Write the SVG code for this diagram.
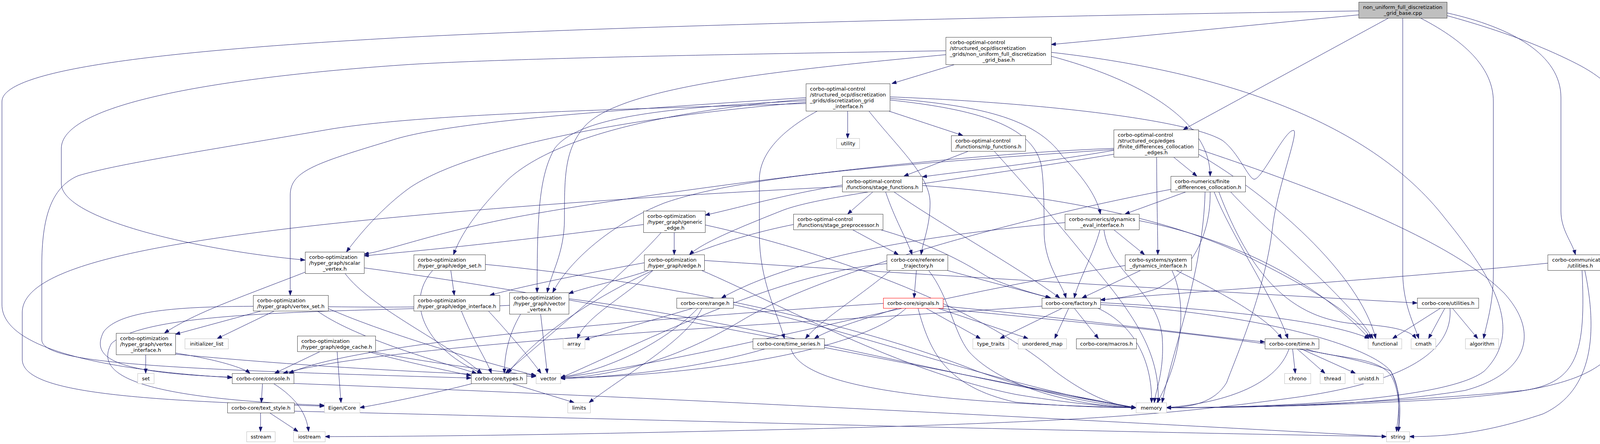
<svg xmlns="http://www.w3.org/2000/svg" width="4169" height="1137" viewBox="0 0 4169 1137">
<defs>
<style>
.e{fill:none;stroke:#191970;stroke-width:1;marker-end:url(#arr)}
.b{fill:#ffffff;stroke:#404040;stroke-width:1}
.g{fill:#ffffff;stroke:#bfbfbf;stroke-width:1}
.r{fill:#ffffff;stroke:#ff0000;stroke-width:1}
.root{fill:#bfbfbf;stroke:#404040;stroke-width:1}
text{font-family:'DejaVu Sans','Liberation Sans',sans-serif;font-size:13.1px;fill:#000000}
.m{text-anchor:middle}
.l{text-anchor:start}
</style>
<marker id="arr" viewBox="0 0 12 9" refX="12" refY="4.5" markerWidth="12" markerHeight="9" orient="auto" markerUnits="userSpaceOnUse"><path d="M0,0 L12,4.5 L0,9 z" fill="#191970" stroke="#191970" stroke-width="1"/></marker>
</defs>
<rect x="0" y="0" width="4169" height="1137" fill="#ffffff"/>
<g id="edges">
<path class="e" d="M3478,38 C3250,60 2950,90 2691,114"/>
<path class="e" d="M3555,46 L3029,332"/>
<path class="e" d="M3478,28 C2800,38 1700,62 1050,95 C500,125 5,170 5,260 L5,780 C5,900 300,950 594,967"/>
<path class="e" d="M3591,46 L3591,700 C3592,780 3620,830 3632,867"/>
<path class="e" d="M3636,46 C3760,110 3823,180 3823,260 L3823,700 C3823,780 3805,830 3798,867"/>
<path class="e" d="M3704,33 C3870,70 3996,140 3996,250 L3996,540 C3996,590 4025,620 4033,652"/>
<path class="e" d="M3704,40 C3850,80 3950,120 4030,160 C4130,210 4162,260 4162,340 L4162,800 C4162,960 4000,1000 3700,1022 C3400,1040 3150,1044 2986,1044"/>
<path class="e" d="M2445,165 L2283,214"/>
<path class="e" d="M2421,130 C1800,140 1300,150 1050,165 C600,195 157,260 157,380 L157,470 C157,560 500,640 781,666"/>
<path class="e" d="M2691,144 C2900,200 3098,300 3098,451"/>
<path class="e" d="M2691,134 C3100,180 3500,300 3700,560 C3830,720 3900,850 3800,950 C3700,1030 3200,1044 2986,1044"/>
<path class="e" d="M2421,140 C2000,180 1600,220 1500,320 C1445,380 1445,450 1445,560 C1445,650 1410,700 1401,749"/>
<path class="e" d="M2170,284 L2170,354"/>
<path class="e" d="M2274,284 L2465,347"/>
<path class="e" d="M2224,284 C2300,380 2381,450 2381,520 C2381,580 2362,620 2358,652"/>
<path class="e" d="M2093,284 C1990,340 1944,400 1944,460 L1944,600 C1944,720 1990,800 2008,867"/>
<path class="e" d="M2063,250 C1600,280 1150,310 1000,360 C800,420 743,440 743,500 L743,756"/>
<path class="e" d="M2063,254 C1700,285 1420,350 1300,460 C1220,540 1180,600 1161,652"/>
<path class="e" d="M2063,258 C1700,275 1480,300 1420,380 C1380,450 1375,550 1375,749"/>
<path class="e" d="M2063,262 C1600,300 1200,380 1050,480 C980,530 920,600 887,645"/>
<path class="e" d="M2063,265 C1600,280 1100,290 850,330 C500,390 300,420 200,450 C130,480 107,560 107,680 L107,870 C107,930 400,945 1206,968"/>
<path class="e" d="M2278,252 C2500,270 2650,300 2720,400 C2780,460 2810,510 2817,548"/>
<path class="e" d="M2278,256 C2500,280 2640,320 2665,420 C2672,460 2673,520 2673,600 C2676,680 2720,730 2729,763"/>
<path class="e" d="M2278,248 C2700,265 3050,310 3130,360 C3170,390 3195,455 3210,459 C3230,462 3290,330 3312,334 C3325,340 3270,480 3258,580 C3240,740 3170,900 3140,980 C3110,1030 3050,1044 2986,1044"/>
<path class="e" d="M2480,387 L2314,451"/>
<path class="e" d="M2545,387 C2620,470 2700,560 2780,660 C2900,800 2970,900 2965,1031"/>
<path class="e" d="M2851,385 C2650,420 2450,440 2361,453"/>
<path class="e" d="M3004,402 L3064,451"/>
<path class="e" d="M2851,395 C2400,470 2100,500 2000,540 C1900,580 1800,620 1765,652"/>
<path class="e" d="M2851,380 C2300,400 1500,520 1300,560 C1100,600 1000,640 932,651"/>
<path class="e" d="M2851,383 C2300,420 1900,450 1700,520 C1550,580 1450,680 1415,749"/>
<path class="e" d="M2961,402 C2961,500 2964,600 2964,652"/>
<path class="e" d="M3068,382 C3300,460 3700,600 3850,750 C3950,860 3900,960 3750,1000 C3500,1040 3200,1044 2986,1044"/>
<path class="e" d="M3068,395 C3250,500 3480,700 3522,867"/>
<path class="e" d="M2156,474 C2000,500 1900,530 1805,551"/>
<path class="e" d="M2235,491 L2170,548"/>
<path class="e" d="M2267,491 C2290,560 2320,610 2335,652"/>
<path class="e" d="M2288,491 C2400,570 2600,680 2713,763"/>
<path class="e" d="M2156,478 C1700,500 1100,540 700,590 C300,640 57,700 57,800 L57,920 C57,1000 300,1025 830,1040"/>
<path class="e" d="M2361,475 C2700,500 3000,560 3200,660 C3400,760 3480,820 3510,867"/>
<path class="e" d="M3037,491 L2880,548"/>
<path class="e" d="M3098,491 C3100,600 3050,700 2960,740 C2900,760 2850,765 2817,768"/>
<path class="e" d="M3108,491 C3150,600 3260,760 3297,867"/>
<path class="e" d="M3150,491 C3250,600 3450,760 3515,867"/>
<path class="e" d="M3085,491 C3080,700 3000,900 2975,1031"/>
<path class="e" d="M2997,485 C2600,560 2100,700 1900,820 C1750,910 1600,960 1435,969"/>
<path class="e" d="M3120,491 C3200,700 3300,820 3480,830 C3560,835 3610,845 3625,867"/>
<path class="e" d="M2182,588 L2300,652"/>
<path class="e" d="M2253,588 C2400,630 2480,680 2530,710 C2600,740 2660,755 2690,763"/>
<path class="e" d="M2031,575 C1700,640 1400,820 1300,956"/>
<path class="e" d="M2726,570 C2400,600 2050,650 1847,763"/>
<path class="e" d="M2816,588 C2800,650 2760,720 2750,763"/>
<path class="e" d="M2826,588 C2840,700 2960,740 2975,860 C2982,950 2958,1000 2955,1031"/>
<path class="e" d="M2851,588 L2930,652"/>
<path class="e" d="M2916,565 C3200,620 3400,750 3505,867"/>
<path class="e" d="M1726,595 L1726,652"/>
<path class="e" d="M1693,595 C1600,700 1450,820 1294,956"/>
<path class="e" d="M1647,575 C1300,620 1100,640 932,655"/>
<path class="e" d="M1805,576 C2100,640 2500,780 2700,950 C2780,1010 2850,1040 2908,1044"/>
<path class="e" d="M1649,673 C1500,700 1350,730 1254,756"/>
<path class="e" d="M1662,692 C1600,715 1500,735 1456,752"/>
<path class="e" d="M1672,692 C1600,760 1500,810 1478,867"/>
<path class="e" d="M1803,667 C2300,700 3000,740 3628,776"/>
<path class="e" d="M1795,692 C2000,780 2300,950 2600,1010 C2750,1035 2850,1042 2908,1044"/>
<path class="e" d="M1154,692 L1163,756"/>
<path class="e" d="M1108,692 C1030,780 1100,900 1234,956"/>
<path class="e" d="M1241,677 C1700,720 2200,830 2500,950 C2700,1020 2850,1040 2908,1044"/>
<path class="e" d="M1181,796 C1210,870 1245,920 1258,956"/>
<path class="e" d="M1250,796 C1300,850 1360,920 1385,956"/>
<path class="e" d="M1059,786 C700,790 330,760 265,850 C230,920 300,955 594,966"/>
<path class="e" d="M1333,804 C1300,860 1292,910 1291,956"/>
<path class="e" d="M1384,804 L1401,956"/>
<path class="e" d="M1456,765 C1900,820 2500,980 2908,1044"/>
<path class="e" d="M1304,782 C900,800 380,790 285,880 C240,960 350,1020 830,1038"/>
<path class="e" d="M781,697 C620,760 500,800 421,853"/>
<path class="e" d="M883,700 C950,790 1150,880 1233,956"/>
<path class="e" d="M932,686 C1500,760 2400,950 2908,1044"/>
<path class="e" d="M670,796 L449,856"/>
<path class="e" d="M703,796 L556,867"/>
<path class="e" d="M812,796 C900,860 1100,920 1220,956"/>
<path class="e" d="M840,790 C1000,860 1250,930 1372,962"/>
<path class="e" d="M373,908 L373,956"/>
<path class="e" d="M449,904 C550,920 620,940 640,956"/>
<path class="e" d="M449,907 C800,940 1100,955 1372,964"/>
<path class="e" d="M820,900 L703,956"/>
<path class="e" d="M863,900 L873,1031"/>
<path class="e" d="M940,900 C1050,930 1150,950 1206,962"/>
<path class="e" d="M950,900 C1100,930 1300,955 1372,961"/>
<path class="e" d="M672,982 L669,1031"/>
<path class="e" d="M700,982 C760,1020 785,1060 790,1105"/>
<path class="e" d="M752,982 C1500,1010 2500,1060 3549,1118"/>
<path class="e" d="M667,1057 L667,1105"/>
<path class="e" d="M690,1057 L763,1105"/>
<path class="e" d="M753,1053 C1500,1070 2500,1100 3549,1118"/>
<path class="e" d="M1210,982 C1100,1010 1000,1030 921,1044"/>
<path class="e" d="M1310,982 L1470,1031"/>
<path class="e" d="M2346,692 L2340,763"/>
<path class="e" d="M2423,692 L2688,763"/>
<path class="e" d="M2280,692 C2200,760 2100,820 2062,867"/>
<path class="e" d="M2377,692 C2430,760 2441,850 2480,900 C2560,990 2750,1040 2908,1044"/>
<path class="e" d="M2270,675 C2000,700 1700,850 1435,968"/>
<path class="e" d="M2370,789 L2510,867"/>
<path class="e" d="M2400,789 L2632,867"/>
<path class="e" d="M2350,789 C2380,900 2420,990 2600,1030 C2750,1042 2850,1044 2908,1044"/>
<path class="e" d="M2413,784 C2700,810 3000,850 3238,876"/>
<path class="e" d="M2300,789 C2200,820 2120,845 2085,867"/>
<path class="e" d="M2320,789 C2200,900 1800,960 1435,969"/>
<path class="e" d="M2261,777 C1600,820 900,880 740,956"/>
<path class="e" d="M2400,789 C2800,830 3400,880 3560,950 C3590,1000 3580,1060 3575,1105"/>
<path class="e" d="M2720,789 L2560,867"/>
<path class="e" d="M2736,789 L2700,867"/>
<path class="e" d="M2750,789 L2812,867"/>
<path class="e" d="M2810,789 C2900,830 2950,920 2948,1031"/>
<path class="e" d="M2667,784 C2000,830 1000,880 725,956"/>
<path class="e" d="M2817,775 C3100,790 3400,820 3505,867"/>
<path class="e" d="M2817,780 C3200,800 3500,880 3560,950 C3590,1010 3585,1060 3580,1105"/>
<path class="e" d="M1960,893 C1800,940 1600,965 1435,969"/>
<path class="e" d="M2025,893 C2050,980 2300,1030 2908,1044"/>
<path class="e" d="M1775,789 L1497,870"/>
<path class="e" d="M1797,789 C1760,870 1600,960 1508,1031"/>
<path class="e" d="M1787,789 C1700,880 1550,950 1435,966"/>
<path class="e" d="M1877,780 C2200,850 2600,1000 2908,1044"/>
<path class="e" d="M2880,680 C2400,750 1900,900 1435,968"/>
<path class="e" d="M2921,692 L2770,763"/>
<path class="e" d="M3000,692 C3050,800 3010,950 2962,1031"/>
<path class="e" d="M3010,692 C3150,760 3250,820 3281,867"/>
<path class="e" d="M3962,674 C3500,720 3000,750 2817,768"/>
<path class="e" d="M4050,692 C4060,900 4040,980 3900,1000 C3600,1030 3200,1044 2986,1044"/>
<path class="e" d="M4057,692 C4090,850 4080,1000 3950,1060 C3800,1110 3700,1118 3608,1118"/>
<path class="e" d="M3688,789 L3565,867"/>
<path class="e" d="M3699,789 L3657,867"/>
<path class="e" d="M3718,789 L3783,867"/>
<path class="e" d="M3712,789 C3720,900 3600,980 3300,1020 C3000,1060 2800,1080 2000,1100 C1500,1112 1100,1118 832,1118"/>
<path class="e" d="M3309,893 L3316,956"/>
<path class="e" d="M3320,893 L3392,956"/>
<path class="e" d="M3330,893 L3470,956"/>
<path class="e" d="M3341,893 C3420,920 3520,910 3560,960 C3585,1000 3582,1060 3580,1105"/>
<path class="e" d="M3300,893 C3270,980 3150,1030 2986,1044"/>
</g>
<g id="nodes" transform="translate(0.5 0.5)">
<g id="n_root"><rect class="root" x="3478" y="5" width="226" height="41"/><text class="l" x="3489" y="22.3">non_uniform_full_discretization</text><text class="m" x="3591" y="37.3">_grid_base.cpp</text></g>
<g id="n_base"><rect class="b" x="2421" y="95" width="270" height="70"/><text class="l" x="2431" y="112.3">corbo-optimal-control</text><text class="l" x="2431" y="127.3">/structured_ocp/discretization</text><text class="l" x="2431" y="142.3">_grids/non_uniform_full_discretization</text><text class="m" x="2556" y="157.3">_grid_base.h</text></g>
<g id="n_iface"><rect class="b" x="2063" y="214" width="215" height="70"/><text class="l" x="2073" y="231.3">corbo-optimal-control</text><text class="l" x="2073" y="246.3">/structured_ocp/discretization</text><text class="l" x="2073" y="261.3">_grids/discretization_grid</text><text class="m" x="2170.5" y="276.3">_interface.h</text></g>
<g id="n_utility"><rect class="g" x="2141" y="354" width="59" height="26"/><text class="m" x="2170.5" y="371.8">utility</text></g>
<g id="n_nlp"><rect class="b" x="2435" y="347" width="190" height="40"/><text class="l" x="2445" y="364.3">corbo-optimal-control</text><text class="m" x="2530" y="379.3">/functions/nlp_functions.h</text></g>
<g id="n_fdedges"><rect class="b" x="2851" y="332" width="217" height="70"/><text class="l" x="2861" y="349.3">corbo-optimal-control</text><text class="l" x="2861" y="364.3">/structured_ocp/edges</text><text class="l" x="2861" y="379.3">/finite_differences_collocation</text><text class="m" x="2959.5" y="394.3">_edges.h</text></g>
<g id="n_stagefun"><rect class="b" x="2156" y="451" width="205" height="40"/><text class="l" x="2166" y="468.3">corbo-optimal-control</text><text class="m" x="2258.5" y="483.3">/functions/stage_functions.h</text></g>
<g id="n_fdcoll"><rect class="b" x="2997" y="451" width="191" height="40"/><text class="l" x="3007" y="468.3">corbo-numerics/finite</text><text class="m" x="3092.5" y="483.3">_differences_collocation.h</text></g>
<g id="n_stageprep"><rect class="b" x="2031" y="548" width="229" height="40"/><text class="l" x="2041" y="565.3">corbo-optimal-control</text><text class="m" x="2145.5" y="580.3">/functions/stage_preprocessor.h</text></g>
<g id="n_dyneval"><rect class="b" x="2726" y="548" width="190" height="40"/><text class="l" x="2736" y="565.3">corbo-numerics/dynamics</text><text class="m" x="2821" y="580.3">_eval_interface.h</text></g>
<g id="n_genedge"><rect class="b" x="1647" y="540" width="158" height="55"/><text class="l" x="1657" y="557.3">corbo-optimization</text><text class="l" x="1657" y="572.3">/hyper_graph/generic</text><text class="m" x="1726" y="587.3">_edge.h</text></g>
<g id="n_scalarv"><rect class="b" x="781" y="645" width="151" height="55"/><text class="l" x="791" y="662.3">corbo-optimization</text><text class="l" x="791" y="677.3">/hyper_graph/scalar</text><text class="m" x="856.5" y="692.3">_vertex.h</text></g>
<g id="n_edgeset"><rect class="b" x="1059" y="652" width="183" height="40"/><text class="l" x="1069" y="669.3">corbo-optimization</text><text class="m" x="1150.5" y="684.3">/hyper_graph/edge_set.h</text></g>
<g id="n_edge"><rect class="b" x="1649" y="652" width="154" height="40"/><text class="l" x="1659" y="669.3">corbo-optimization</text><text class="m" x="1726" y="684.3">/hyper_graph/edge.h</text></g>
<g id="n_reftraj"><rect class="b" x="2270" y="652" width="156" height="40"/><text class="l" x="2280" y="669.3">corbo-core/reference</text><text class="m" x="2348" y="684.3">_trajectory.h</text></g>
<g id="n_sysdyn"><rect class="b" x="2880" y="652" width="170" height="40"/><text class="l" x="2890" y="669.3">corbo-systems/system</text><text class="m" x="2965" y="684.3">_dynamics_interface.h</text></g>
<g id="n_commutil"><rect class="b" x="3962" y="652" width="166" height="40"/><text class="l" x="3973" y="669.3">corbo-communication</text><text class="m" x="4045" y="684.3">/utilities.h</text></g>
<g id="n_vertexset"><rect class="b" x="648" y="756" width="192" height="40"/><text class="l" x="658" y="773.3">corbo-optimization</text><text class="m" x="744" y="788.3">/hyper_graph/vertex_set.h</text></g>
<g id="n_edgeiface"><rect class="b" x="1059" y="756" width="220" height="40"/><text class="l" x="1069" y="773.3">corbo-optimization</text><text class="m" x="1169" y="788.3">/hyper_graph/edge_interface.h</text></g>
<g id="n_vectorv"><rect class="b" x="1304" y="749" width="152" height="55"/><text class="l" x="1314" y="766.3">corbo-optimization</text><text class="l" x="1314" y="781.3">/hyper_graph/vector</text><text class="m" x="1380" y="796.3">_vertex.h</text></g>
<g id="n_range"><rect class="b" x="1732" y="763" width="145" height="26"/><text class="m" x="1804.5" y="780.8">corbo-core/range.h</text></g>
<g id="n_signals"><rect class="r" x="2261" y="763" width="153" height="26"/><text class="m" x="2337.5" y="780.8">corbo-core/signals.h</text></g>
<g id="n_factory"><rect class="b" x="2667" y="763" width="150" height="26"/><text class="m" x="2742" y="780.8">corbo-core/factory.h</text></g>
<g id="n_coreutil"><rect class="b" x="3628" y="763" width="157" height="26"/><text class="m" x="3706.5" y="780.8">corbo-core/utilities.h</text></g>
<g id="n_vertexiface"><rect class="b" x="297" y="853" width="152" height="55"/><text class="l" x="307" y="870.3">corbo-optimization</text><text class="l" x="307" y="885.3">/hyper_graph/vertex</text><text class="m" x="373" y="900.3">_interface.h</text></g>
<g id="n_edgecache"><rect class="b" x="761" y="860" width="200" height="40"/><text class="l" x="771" y="877.3">corbo-optimization</text><text class="m" x="861" y="892.3">/hyper_graph/edge_cache.h</text></g>
<g id="n_initlist"><rect class="g" x="473" y="867" width="111" height="26"/><text class="m" x="528.5" y="884.8">initializer_list</text></g>
<g id="n_array"><rect class="g" x="1441" y="867" width="56" height="26"/><text class="m" x="1469" y="884.8">array</text></g>
<g id="n_timeseries"><rect class="b" x="1927" y="867" width="183" height="26"/><text class="m" x="2018.5" y="884.8">corbo-core/time_series.h</text></g>
<g id="n_typetraits"><rect class="g" x="2490" y="867" width="92" height="26"/><text class="m" x="2536" y="884.8">type_traits</text></g>
<g id="n_unordmap"><rect class="g" x="2606" y="867" width="124" height="26"/><text class="m" x="2668" y="884.8">unordered_map</text></g>
<g id="n_macros"><rect class="b" x="2755" y="867" width="154" height="26"/><text class="m" x="2832" y="884.8">corbo-core/macros.h</text></g>
<g id="n_time"><rect class="b" x="3238" y="867" width="138" height="26"/><text class="m" x="3307" y="884.8">corbo-core/time.h</text></g>
<g id="n_functional"><rect class="g" x="3502" y="867" width="86" height="26"/><text class="m" x="3545" y="884.8">functional</text></g>
<g id="n_cmath"><rect class="g" x="3612" y="867" width="63" height="26"/><text class="m" x="3643.5" y="884.8">cmath</text></g>
<g id="n_algorithm"><rect class="g" x="3751" y="867" width="85" height="26"/><text class="m" x="3793.5" y="884.8">algorithm</text></g>
<g id="n_set"><rect class="g" x="352" y="956" width="42" height="26"/><text class="m" x="373" y="973.8">set</text></g>
<g id="n_console"><rect class="b" x="594" y="956" width="158" height="26"/><text class="m" x="673" y="973.8">corbo-core/console.h</text></g>
<g id="n_types"><rect class="b" x="1206" y="956" width="142" height="26"/><text class="m" x="1277" y="973.8">corbo-core/types.h</text></g>
<g id="n_vector"><rect class="g" x="1372" y="956" width="63" height="26"/><text class="m" x="1403.5" y="973.8">vector</text></g>
<g id="n_chrono"><rect class="g" x="3288" y="956" width="67" height="26"/><text class="m" x="3321.5" y="973.8">chrono</text></g>
<g id="n_thread"><rect class="g" x="3379" y="956" width="64" height="26"/><text class="m" x="3411" y="973.8">thread</text></g>
<g id="n_unistd"><rect class="g" x="3466" y="956" width="75" height="26"/><text class="m" x="3503.5" y="973.8">unistd.h</text></g>
<g id="n_textstyle"><rect class="b" x="582" y="1031" width="171" height="26"/><text class="m" x="667.5" y="1048.8">corbo-core/text_style.h</text></g>
<g id="n_eigen"><rect class="g" x="830" y="1031" width="91" height="26"/><text class="m" x="875.5" y="1048.8">Eigen/Core</text></g>
<g id="n_limits"><rect class="g" x="1453" y="1031" width="58" height="26"/><text class="m" x="1482" y="1048.8">limits</text></g>
<g id="n_memory"><rect class="g" x="2908" y="1031" width="78" height="26"/><text class="m" x="2947" y="1048.8">memory</text></g>
<g id="n_sstream"><rect class="g" x="631" y="1105" width="73" height="26"/><text class="m" x="667.5" y="1122.8">sstream</text></g>
<g id="n_iostream"><rect class="g" x="751" y="1105" width="81" height="26"/><text class="m" x="791.5" y="1122.8">iostream</text></g>
<g id="n_string"><rect class="g" x="3549" y="1105" width="59" height="26"/><text class="m" x="3578.5" y="1122.8">string</text></g>
</g>
</svg>
